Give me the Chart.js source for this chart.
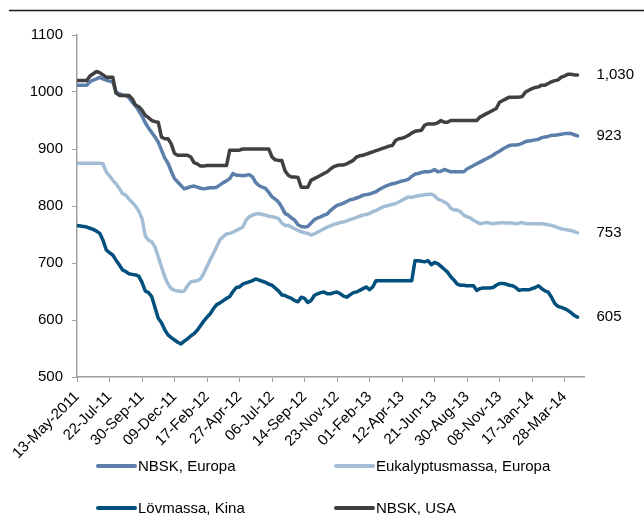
<!DOCTYPE html>
<html lang="sv">
<head>
<meta charset="UTF-8">
<title>Massapriser</title>
<script src="https://cdn.jsdelivr.net/npm/chart.js@4.4.1/dist/chart.umd.min.js"></script>
<style>
  body { margin: 0; background: #fff; }
  canvas { display: block; }
</style>
</head>
<body>
<canvas id="myChart" width="644" height="515"></canvas>
<script>
// weekly observations from 13-May-2011, tick label every 10th week
const tickLabels = ['13-May-2011', '22-Jul-11', '30-Sep-11', '09-Dec-11', '17-Feb-12', '27-Apr-12',
  '06-Jul-12', '14-Sep-12', '23-Nov-12', '01-Feb-13', '12-Apr-13', '21-Jun-13', '30-Aug-13',
  '08-Nov-13', '17-Jan-14', '28-Mar-14'];
const weekCount = 157;

const nbskUsa = [
  1020,1020,1020,1020,1028,1032,1036,1034,1030,1026,
  1026,1026,998,994,994,994,994,988,977,974,
  968,959,955,950,948,947,921,918,918,909,
  892,889,889,889,889,886,876,874,870,870,
  871,871,871,871,871,871,871,898,898,898,
  898,900,900,900,900,900,900,900,900,900,
  886,881,880,880,862,854,851,851,850,833,
  833,833,845,848,851,854,857,860,865,869,
  871,872,872,874,877,880,886,888,889,891,
  893,895,897,899,901,903,905,906,915,918,
  919,921,924,928,931,932,933,942,944,944,
  944,946,950,947,947,950,950,950,950,950,
  950,950,950,950,956,959,962,965,968,971,
  982,985,988,991,991,991,991,992,1000,1003,
  1006,1008,1009,1012,1012,1015,1018,1020,1021,1026,
  1028,1031,1031,1030,1030
];
const nbskEuropa = [
  1012,1012,1012,1012,1018,1021,1023,1026,1023,1021,
  1019,1018,1000,997,995,994,990,982,976,967,
  958,946,937,929,921,912,898,884,875,861,
  848,842,836,830,832,834,835,833,831,830,
  831,832,832,833,837,841,844,848,857,854,
  854,853,854,855,851,841,836,833,831,824,
  816,812,807,798,787,784,779,775,767,764,
  763,764,770,776,779,781,784,786,792,797,
  801,803,805,808,811,812,814,816,819,820,
  821,823,825,829,832,835,837,839,840,842,
  844,845,847,852,856,857,859,860,860,861,
  864,860,861,864,862,860,860,860,860,860,
  865,868,871,874,877,880,883,886,889,893,
  896,900,903,906,907,907,908,910,913,914,
  915,916,917,920,921,922,924,924,925,926,
  927,927,927,925,923
];
const eukalyptus = [
  875,875,875,875,875,875,875,875,874,860,
  853,845,839,831,822,819,812,806,800,791,
  778,748,740,737,728,711,693,676,663,655,
  652,651,650,651,660,667,668,669,672,682,
  694,706,717,729,741,746,751,752,754,757,
  760,763,775,781,784,786,787,785,784,782,
  781,780,778,770,766,766,763,760,757,755,
  753,752,749,751,754,757,760,763,765,768,
  769,771,772,774,776,778,780,782,784,785,
  787,790,792,795,798,800,801,803,804,807,
  810,813,816,815,817,818,819,820,820,821,
  818,812,810,807,804,796,793,793,790,784,
  781,779,775,772,769,770,771,770,769,770,
  770,771,770,770,770,769,770,771,769,769,
  769,769,769,769,768,767,766,764,762,760,
  759,758,757,755,753
];
const lovmassa = [
  766,765,764,763,761,759,756,752,740,723,
  718,714,705,697,688,685,681,680,679,677,
  666,651,648,641,622,603,595,583,574,569,
  565,561,558,563,567,572,576,582,590,598,
  605,611,620,627,630,634,638,641,650,657,
  658,663,665,667,669,672,670,668,666,663,
  661,656,651,644,643,640,638,634,632,640,
  638,631,634,643,646,648,649,646,646,648,
  649,646,642,640,644,648,649,652,655,658,
  653,658,669,669,669,669,669,669,669,669,
  669,669,669,669,704,704,703,702,704,697,
  701,699,694,689,684,676,670,663,661,661,
  660,660,660,652,655,656,656,656,657,661,
  664,664,663,661,660,657,652,653,653,653,
  655,657,660,655,651,649,640,629,624,622,
  620,617,613,608,605
];

const series = [
  { label: 'NBSK, USA', data: nbskUsa, color: '#404040' },
  { label: 'NBSK, Europa', data: nbskEuropa, color: '#5b7eaa' },
  { label: 'Eukalyptusmassa, Europa', data: eukalyptus, color: '#a3bdd5' },
  { label: 'Lövmassa, Kina', data: lovmassa, color: '#004f7c' }
];
// legend grid: [series index, column, row]
const legendOrder = [[1, 0, 0], [2, 1, 0], [3, 0, 1], [0, 1, 1]];

const FONT = '"Liberation Sans", Arial, sans-serif';

const extras = {
  id: 'extras',
  afterDraw(chart) {
    const ctx = chart.ctx;
    const x = chart.scales.x, y = chart.scales.y;
    ctx.save();
    // rule under the (cut off) heading
    ctx.strokeStyle = '#1a1a1a';
    ctx.lineWidth = 1.5;
    ctx.beginPath();
    ctx.moveTo(9, 10.5);
    ctx.lineTo(644, 10.5);
    ctx.stroke();

    // value labels at the end of each line
    ctx.font = '15px ' + FONT;
    ctx.fillStyle = '#000';
    ctx.textAlign = 'left';
    ctx.textBaseline = 'middle';
    series.forEach(s => {
      const last = s.data.length - 1;
      const v = s.data[last];
      ctx.fillText(v.toLocaleString('en-US'), x.getPixelForValue(last) + 19, y.getPixelForValue(v));
    });

    // legend, two columns
    const colX = [96, 334], rowY = [466, 508];
    legendOrder.forEach(([si, c, r]) => {
      const s = series[si];
      ctx.strokeStyle = s.color;
      ctx.lineWidth = 4;
      ctx.lineCap = 'round';
      ctx.beginPath();
      ctx.moveTo(colX[c] + 2, rowY[r]);
      ctx.lineTo(colX[c] + 39, rowY[r]);
      ctx.stroke();
      ctx.fillText(s.label, colX[c] + 42, rowY[r] + 1);
    });
    ctx.restore();
  }
};

const ctx = document.getElementById('myChart').getContext('2d');
new Chart(ctx, {
  type: 'line',
  data: {
    datasets: series.map(s => ({
      label: s.label,
      data: s.data.map((v, i) => ({ x: i, y: v })),
      borderColor: s.color,
      backgroundColor: s.color,
      borderWidth: 3.5,
      pointRadius: 0,
      tension: 0,
      fill: false,
      borderJoinStyle: 'round',
      borderCapStyle: 'round'
    }))
  },
  options: {
    responsive: false,
    animation: false,
    devicePixelRatio: 1,
    layout: { padding: { top: 35, right: 60, left: 0, bottom: 0 } },
    plugins: { legend: { display: false }, tooltip: { enabled: false } },
    scales: {
      x: {
        type: 'linear',
        min: 0,
        max: weekCount - 1,
        afterFit: scale => { scale.height = 138; },
        grid: { drawOnChartArea: false, drawTicks: true, tickLength: 5, tickColor: '#a0a0a0' },
        border: { color: '#a0a0a0', width: 1.5 },
        ticks: {
          stepSize: 10,
          includeBounds: false,
          autoSkip: false,
          maxRotation: 45,
          minRotation: 45,
          padding: 6,
          color: '#000',
          font: { family: FONT, size: 15 },
          callback: v => tickLabels[v / 10] || ''
        }
      },
      y: {
        min: 500,
        max: 1100,
        afterFit: scale => { scale.width = 77; },
        grid: { drawOnChartArea: false, drawTicks: true, tickLength: 5, tickColor: '#a0a0a0' },
        border: { color: '#a0a0a0', width: 1.5 },
        ticks: {
          stepSize: 100,
          padding: 9,
          color: '#000',
          font: { family: FONT, size: 15 },
          callback: v => String(v)
        }
      }
    }
  },
  plugins: [extras]
});
</script>
</body>
</html>
